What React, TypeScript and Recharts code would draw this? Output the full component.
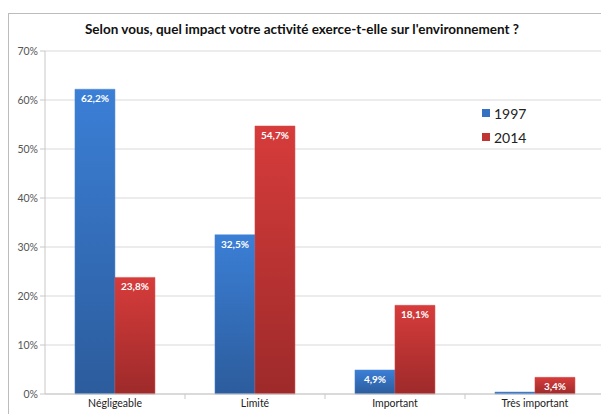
import React from 'react';
import { BarChart, Bar, XAxis, YAxis, CartesianGrid, LabelList } from 'recharts';

const categories = ['Négligeable', 'Limité', 'Important', 'Très important'];
const values1997 = [62.2, 32.5, 4.9, 0.4];
const values2014 = [23.8, 54.7, 18.1, 3.4];
const yTicks = [0, 10, 20, 30, 40, 50, 60, 70];
const seriesNames = ['1997', '2014'];
const seriesColors = ['#3470c4', '#c03434'];

const data = categories.map((c, i) => ({ name: c, y1997: values1997[i], y2014: values2014[i] }));

const CHART_W = 640;
const CHART_H = 414;
const MARGIN = { top: 51, right: 35, left: 0, bottom: 0 };
const Y_W = 45;
const BAND = (CHART_W - MARGIN.left - MARGIN.right - Y_W) / categories.length;

const FONT = 'Lato, "Liberation Sans", sans-serif';

const fmt = (v: any) => (v < 2 ? '' : `${String(v).replace('.', ',')}%`);

const CategoryTick = (props: any) => {
  const { x, y, payload, index } = props;
  return (
    <g>
      {index < categories.length - 1 && (
        <line x1={x + BAND / 2} x2={x + BAND / 2} y1={y - 8} y2={y - 3} stroke="#c8c8c8" />
      )}
      <text x={x} y={y + 5} textAnchor="middle" fill="#222" fontSize={10.5} fontFamily={FONT}>
        {payload.value}
      </text>
    </g>
  );
};

export default function App() {
  return (
    <div style={{ position: 'absolute', left: 0, top: 0, width: 601, height: 414, overflow: 'hidden', background: '#fff' }}>
      <div style={{ position: 'absolute', left: 8, top: 13, width: 700, height: 500, border: '1px solid #bcbcbc' }} />
      <div
        style={{
          position: 'absolute', left: 0, top: 21, width: 604, textAlign: 'center',
          fontFamily: FONT, fontWeight: 700, fontSize: 13.5, color: '#111',
        }}
      >
        Selon vous, quel impact votre activité exerce-t-elle sur l'environnement ?
      </div>
      <div style={{ position: 'absolute', left: 0, top: 0 }}>
        <BarChart width={CHART_W} height={CHART_H} data={data} margin={MARGIN} barCategoryGap="21.4%" barGap={0}>
          <defs>
            <linearGradient id="gBlue" x1="0" y1="0" x2="0" y2="1">
              <stop offset="0%" stopColor="#3b7fd6" />
              <stop offset="100%" stopColor="#2c5c9c" />
            </linearGradient>
            <linearGradient id="gRed" x1="0" y1="0" x2="0" y2="1">
              <stop offset="0%" stopColor="#d63c3b" />
              <stop offset="100%" stopColor="#9e2a2a" />
            </linearGradient>
          </defs>
          <CartesianGrid vertical={false} stroke="#d9d9d9" />
          <XAxis
            dataKey="name"
            height={20}
            axisLine={{ stroke: '#c8c8c8' }}
            tickLine={false}
            tick={<CategoryTick />}
            interval={0}
          />
          <YAxis
            width={Y_W}
            domain={[0, 70]}
            ticks={yTicks}
            tickFormatter={(v) => `${v}%`}
            axisLine={{ stroke: '#c8c8c8' }}
            tickLine={{ stroke: '#c8c8c8' }}
            tickSize={5}
            tick={{ fill: '#555', fontSize: 10.5, fontFamily: FONT }}
            interval={0}
          />
          <Bar dataKey="y1997" name={seriesNames[0]} fill="url(#gBlue)" isAnimationActive={false} stroke="#4a86d0" strokeWidth={0.5}>
            <LabelList dataKey="y1997" position="insideTop" offset={6} formatter={fmt} fill="#fff" fontSize={10} fontWeight={700} fontFamily={FONT} />
          </Bar>
          <Bar dataKey="y2014" name={seriesNames[1]} fill="url(#gRed)" isAnimationActive={false} stroke="#d24a48" strokeWidth={0.5}>
            <LabelList dataKey="y2014" position="insideTop" offset={6} formatter={fmt} fill="#fff" fontSize={10} fontWeight={700} fontFamily={FONT} />
          </Bar>
        </BarChart>
      </div>
      <div style={{ position: 'absolute', left: 482, top: 101, fontFamily: FONT, fontSize: 14, color: '#222' }}>
        {seriesNames.map((n, i) => (
          <div key={n} style={{ display: 'flex', alignItems: 'center', height: 24 }}>
            <span style={{ width: 8, height: 8, background: seriesColors[i], marginRight: 4, display: 'inline-block' }} />
            {n}
          </div>
        ))}
      </div>
    </div>
  );
}
